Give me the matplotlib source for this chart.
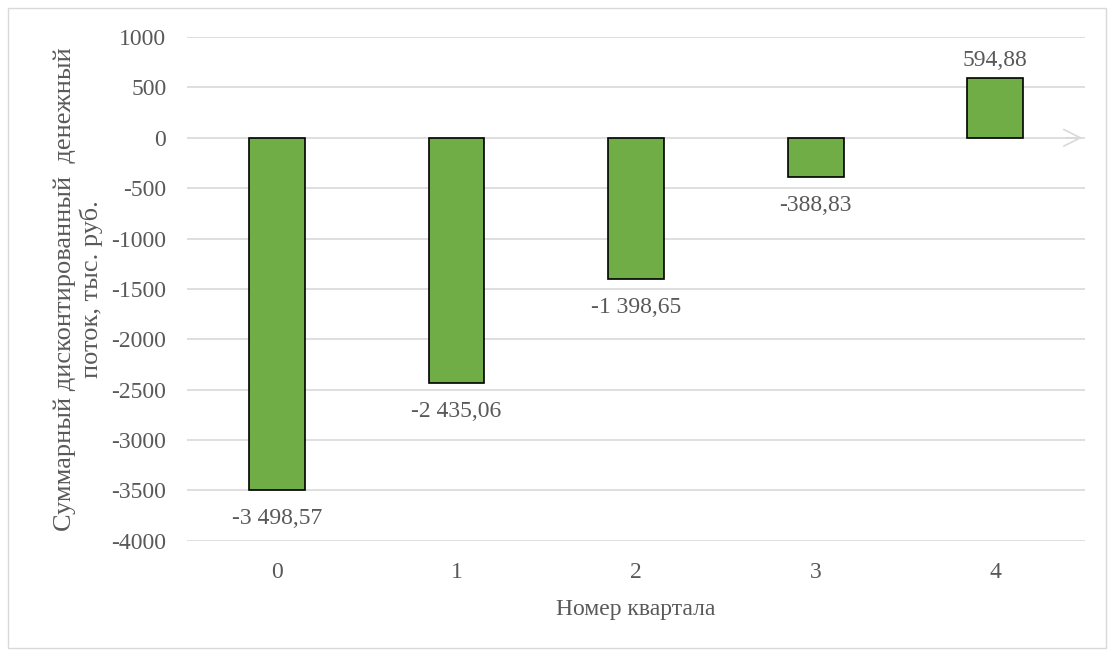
import matplotlib.pyplot as plt
from matplotlib.patches import Rectangle

# quarters and cumulative discounted cash flow, thousand rub.
quarters = ['0', '1', '2', '3', '4']
flow = [-3498.57, -2435.06, -1398.65, -388.83, 594.88]
value_labels = ['-3 498,57', '-2 435,06', '-1 398,65', '-388,83', '594,88']

plt.rcParams['font.family'] = ['Liberation Serif', 'DejaVu Serif']
plt.rcParams['axes.unicode_minus'] = False
text_color = '#595959'
grid_color = '#D9D9D9'
fs = 17

fig = plt.figure(figsize=(11.14, 6.5), dpi=100)
ax = fig.add_axes([0.168, 0.168, 0.806, 0.775])

x = list(range(len(quarters)))
ax.bar(x, flow, width=0.31, color='#70AD47', edgecolor='black', linewidth=1.2, zorder=3)

for xi, v, lab in zip(x, flow, value_labels):
    if v < 0:
        ax.annotate(lab, (xi, v), xytext=(0, -13), textcoords='offset points',
                    ha='center', va='top', fontsize=fs, color=text_color)
    else:
        ax.annotate(lab, (xi, v), xytext=(0, 5), textcoords='offset points',
                    ha='center', va='bottom', fontsize=fs, color=text_color)

ax.set_xlim(-0.5, 4.5)
ax.set_ylim(-4000, 1000)
ax.set_yticks(range(-4000, 1001, 500))
ax.set_xticks(x)
ax.set_xticklabels(quarters)
ax.tick_params(axis='both', length=0, labelsize=fs, labelcolor=text_color)
ax.tick_params(axis='x', pad=15)
ax.tick_params(axis='y', pad=15)
ax.grid(axis='y', color=grid_color, linewidth=1.2, zorder=0)
for s in ax.spines.values():
    s.set_visible(False)

# zero axis with arrow head
ax.annotate('', xy=(4.5, 0), xytext=(4.38, 0),
            arrowprops=dict(arrowstyle='->,head_length=1.2,head_width=0.6', color=grid_color, lw=1.2),
            zorder=1)

ax.set_xlabel('Номер квартала', fontsize=fs, color=text_color, labelpad=12)
ax.set_ylabel('Суммарный дисконтированный  денежный\nпоток, тыс. руб.', fontsize=19,
              color=text_color, labelpad=6)

# light border around the chart
fig.patches.append(Rectangle((0.007, 0.003), 0.986, 0.985, transform=fig.transFigure,
                             fill=False, edgecolor=grid_color, linewidth=1))

fig.savefig('out.png', dpi=100)
